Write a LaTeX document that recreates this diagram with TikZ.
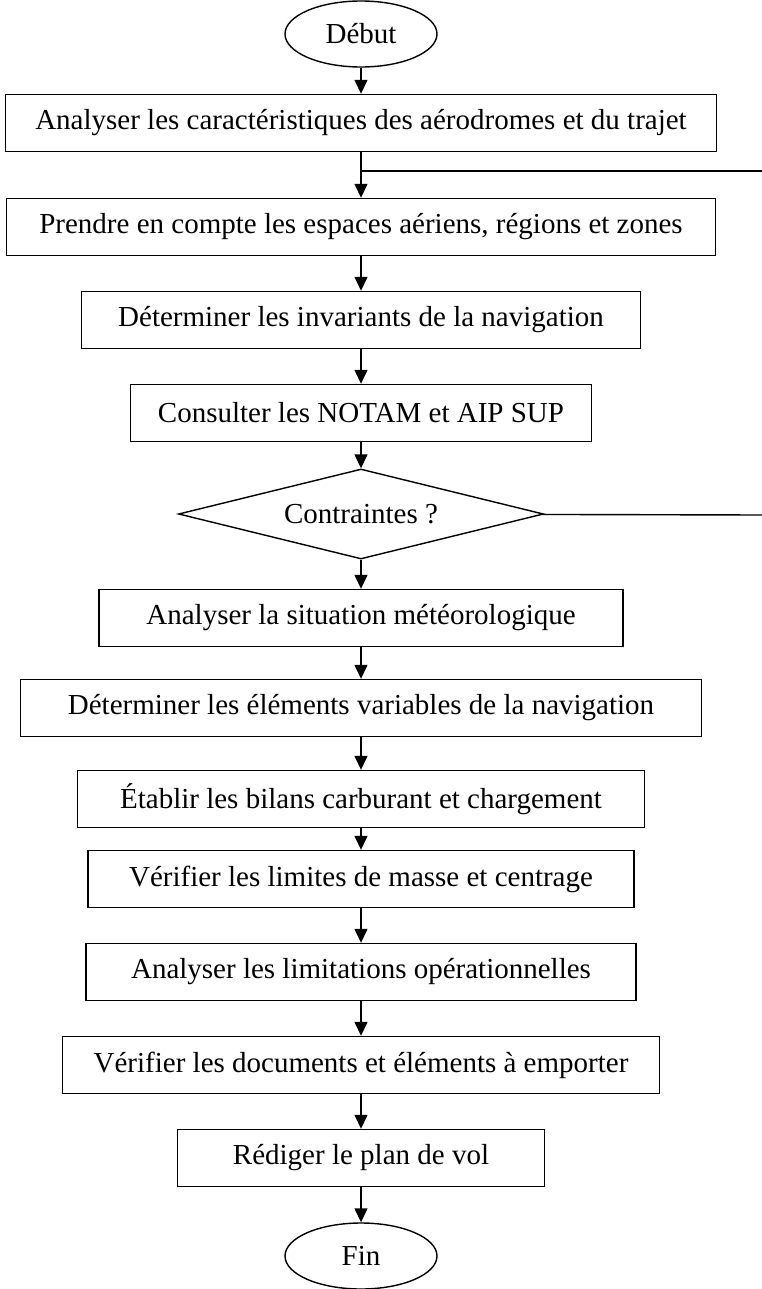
\documentclass[tikz,border=0pt]{standalone}
\usepackage{fontspec}
\setmainfont{Liberation Serif}
\usetikzlibrary{arrows.meta,shapes.geometric,positioning}

\begin{document}
\begin{tikzpicture}[%
x=1pt,
y=-1pt,
>={Triangle[length=14pt,width=13pt]},
node distance=93pt,
on grid,
line width=1.4pt,
font=\fontsize{29}{34}\selectfont,
etape/.style={draw,rectangle,minimum height=57pt,inner sep=0pt},
borne/.style={draw,ellipse,minimum width=152pt,minimum height=66pt,inner sep=0pt},
test/.style={draw,diamond,aspect=4.05,minimum width=365pt,minimum height=90pt,inner sep=0pt}
]

\useasboundingbox (0,0) rectangle (762,1289);

\node[borne] (debut) at (361,34) {Début};
\node[etape,minimum width=711pt] (1) [below=89pt of debut] {Analyser les caractéristiques des aérodromes et du trajet};
\node[etape,minimum width=709pt] (2) [below=104pt of 1] {Prendre en compte les espaces aériens, régions et zones};
\node[etape,minimum width=559pt] (3) [below=of 2] {Déterminer les invariants de la navigation};
\node[etape,minimum width=461pt] (4) [below=of 3] {Consulter les NOTAM et AIP SUP};
\node[test] (test) [below=101pt of 4] {Contraintes ?};
\node[etape,minimum width=524pt] (5) [below=104pt of test] {Analyser la situation météorologique};
\node[etape,minimum width=681pt] (6) [below=90pt of 5] {Déterminer les éléments variables de la navigation};
\node[etape,minimum width=567pt] (7) [below=91pt of 6] {Établir les bilans carburant et chargement};
\node[etape,minimum width=546pt] (8) [below=80pt of 7] {Vérifier les limites de masse et centrage};
\node[etape,minimum width=550pt] (9) [below=of 8] {Analyser les limitations opérationnelles};
\node[etape,minimum width=597pt] (10) [below=of 9] {Vérifier les documents et éléments à emporter};
\node[etape,minimum width=367pt] (11) [below=of 10] {Rédiger le plan de vol};
\node[borne] (fin) [below=98pt of 11] {Fin};

% boucle vers la droite
\coordinate (jonction) at (361,171);
\coordinate (retour) at (762,171);
\coordinate (sortie) at (762,515);

\draw[->] (debut) -- (1);
\draw (1) -- (jonction);
\draw[->] (jonction) -- (2);
\draw (jonction) -- (retour);
\draw[->] (2) -- (3);
\draw[->] (3) -- (4);
\draw[->] (4) -- (test);
\draw (test) -- (sortie);
\draw[->] (test) -- (5);
\draw[->] (5) -- (6);
\draw[->] (6) -- (7);
\draw[->] (7) -- (8);
\draw[->] (8) -- (9);
\draw[->] (9) -- (10);
\draw[->] (10) -- (11);
\draw[->] (11) -- (fin);

\end{tikzpicture}
\end{document}
